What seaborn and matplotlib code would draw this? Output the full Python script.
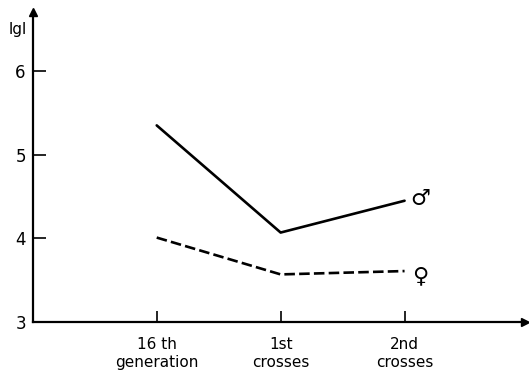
import numpy as np
import pandas as pd
import seaborn as sns
import matplotlib.pyplot as plt

stages = ['16 th\ngeneration', '1st\ncrosses', '2nd\ncrosses']
male = [5.35, 4.07, 4.45]
female = [4.01, 3.57, 3.61]
y_ticks = [3, 4, 5, 6]

sns.set_style('white')
plt.rcParams['font.family'] = ['DejaVu Sans']
plt.rcParams['text.color'] = 'black'
plt.rcParams['xtick.color'] = 'black'
plt.rcParams['ytick.color'] = 'black'

df = pd.DataFrame({'stage': stages * 2,
                   'lgl': male + female,
                   'sex': ['male'] * 3 + ['female'] * 3})

fig = plt.figure(figsize=(5.29, 3.75), dpi=100)
ax = fig.add_axes([0.062, 0.141, 0.93, 0.826])
sns.lineplot(df, x='stage', y='lgl', style='sex', color='black', linewidth=1.9,
             dashes={'male': '', 'female': (4, 1.6)}, legend=False, ax=ax, sort=False)

ax.set_xlim(-1, 2.97)
ax.set_ylim(3, 6.7)
ax.set_yticks(y_ticks)
ax.set_xticks(range(len(stages)))
ax.set_xticklabels(stages, fontsize=11, linespacing=1.25)
ax.tick_params(axis='y', left=True, direction='in', length=9, width=1.2,
               labelsize=12, pad=5, labelcolor='black')
ax.tick_params(axis='x', bottom=True, direction='in', length=8, width=1.2,
               pad=11, labelcolor='black')
ax.set_xlabel('')
ax.set_ylabel('')
for s in ['top', 'right']:
    ax.spines[s].set_visible(False)
for s in ['left', 'bottom']:
    ax.spines[s].set_linewidth(1.6)
    ax.spines[s].set_color('black')

# axis arrows
ax.plot(1, 0, '>k', ms=6, transform=ax.transAxes, clip_on=False)
ax.plot(0, 1, '^k', ms=6, transform=ax.transAxes, clip_on=False)
ax.text(-0.03, 0.93, 'lgl', transform=ax.transAxes, fontsize=11, ha='center')

ax.text(2.13, male[-1] + 0.02, '♂', fontsize=16, fontweight='bold', ha='center', va='center')
ax.text(2.13, female[-1] - 0.06, '♀', fontsize=16, fontweight='bold', ha='center', va='center')

fig.savefig('out.png', dpi=100)
